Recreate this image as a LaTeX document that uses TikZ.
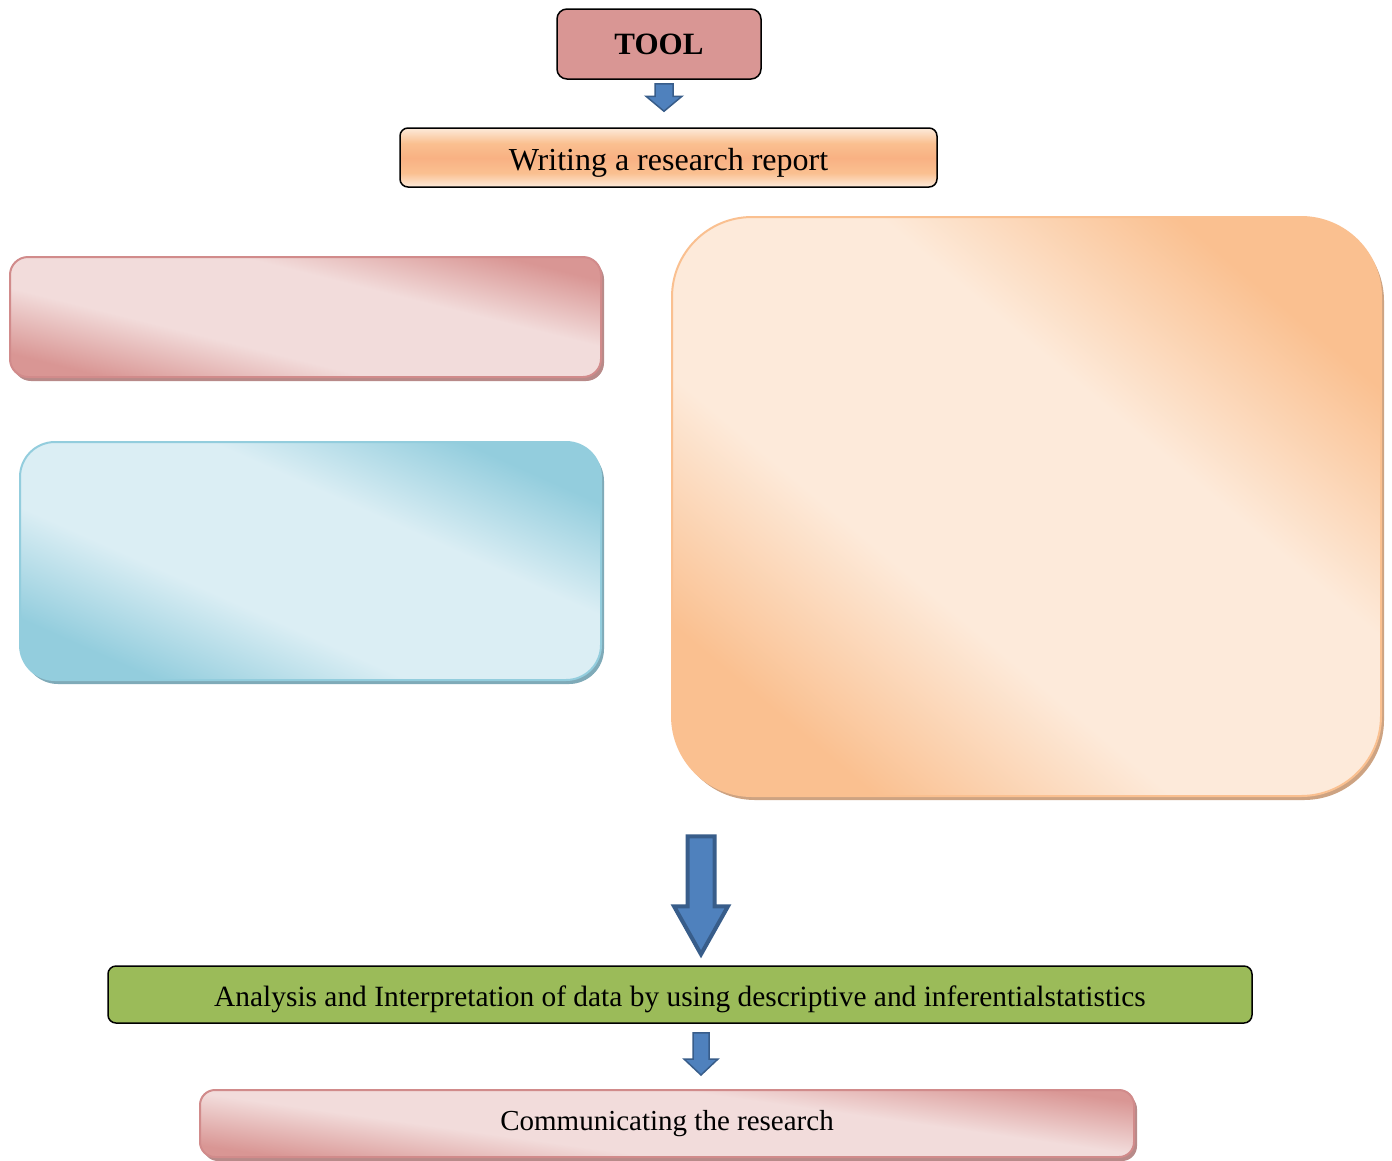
\documentclass[tikz,border=0pt]{standalone}
\usepackage{fontspec}
\setmainfont{Liberation Serif}
\usetikzlibrary{calc,shadows}

\definecolor{tooldark}{rgb}{0.851, 0.588, 0.580}
\definecolor{pinkdark}{rgb}{0.851, 0.588, 0.580}
\definecolor{pinklight}{rgb}{0.949, 0.863, 0.859}
\definecolor{pinkline}{rgb}{0.820, 0.545, 0.545}
\definecolor{pinkshadow}{rgb}{0.722, 0.541, 0.537}
\definecolor{bluedark}{rgb}{0.576, 0.804, 0.867}
\definecolor{bluelight}{rgb}{0.859, 0.933, 0.957}
\definecolor{blueshadow}{rgb}{0.498, 0.667, 0.722}
\definecolor{orangedark}{rgb}{0.980, 0.753, 0.565}
\definecolor{orangelight}{rgb}{0.992, 0.918, 0.855}
\definecolor{orangemid}{rgb}{0.976, 0.694, 0.514}
\definecolor{orangeshadow}{rgb}{0.804, 0.639, 0.510}
\definecolor{greenfill}{rgb}{0.608, 0.733, 0.349}
\definecolor{arrowfill}{rgb}{0.310, 0.506, 0.741}
\definecolor{arrowline}{rgb}{0.220, 0.365, 0.541}

\pgfdeclarehorizontalshading{pinkband}{100bp}{color(0bp)=(pinkdark); color(25bp)=(pinkdark); color(40bp)=(pinklight); color(60bp)=(pinklight); color(75bp)=(pinkdark); color(100bp)=(pinkdark)}
\pgfdeclarehorizontalshading{blueband}{100bp}{color(0bp)=(bluedark); color(25bp)=(bluedark); color(40bp)=(bluelight); color(60bp)=(bluelight); color(75bp)=(bluedark); color(100bp)=(bluedark)}
\pgfdeclarehorizontalshading{orangeband}{100bp}{color(0bp)=(orangedark); color(25bp)=(orangedark); color(40bp)=(orangelight); color(60bp)=(orangelight); color(75bp)=(orangedark); color(100bp)=(orangedark)}
\pgfdeclareverticalshading{orangestrip}{100bp}{color(0bp)=(orangelight); color(25bp)=(orangelight); color(37bp)=(orangedark); color(50bp)=(orangemid); color(62bp)=(orangedark); color(75bp)=(orangelight); color(100bp)=(orangelight)}

\newcommand{\blockarrow}[6][]{%
\draw[arrowbody,#1] ($(#2)+(-#4,0)$)--($(#2)+(#4,0)$)--($(#3)+(#4,-#6)$)--($(#3)+(#5,-#6)$)--(#3)--($(#3)+(-#5,-#6)$)--($(#3)+(-#4,-#6)$)--cycle;}

\begin{document}
\begin{tikzpicture}[x=1pt,y=-1pt,
  plainbox/.style={draw=black,line width=1.5pt,inner sep=0pt},
  softbox/.style={line width=2pt,inner sep=0pt},
  arrowbody/.style={fill=arrowfill,draw=arrowline,line width=1.5pt,line join=miter}]
\fill[white] (0,0) rectangle (1392,1160);
\useasboundingbox (0,0) rectangle (1392,1160);

\node[plainbox,rounded corners=10pt,fill=tooldark,minimum width=204pt,minimum height=70pt,
  font=\fontsize{31}{36}\selectfont\bfseries] (tool) at (659,44) {TOOL};
\node[plainbox,rounded corners=8pt,shading=orangestrip,minimum width=537pt,minimum height=59pt,
  text height=32pt,font=\fontsize{32}{38}\selectfont] (writing) at (668.5,157.5) {Writing a research report};

\node[softbox,rounded corners=18pt,draw=pinkline,shading=pinkband,shading angle=76,minimum width=591pt,minimum height=120pt,
  drop shadow={shadow xshift=3pt,shadow yshift=-4pt,fill=pinkshadow,opacity=1}] (pinkbox) at (305.5,317) {};
\node[softbox,rounded corners=35pt,draw=bluedark,shading=blueband,shading angle=66,minimum width=581pt,minimum height=238pt,
  drop shadow={shadow xshift=3pt,shadow yshift=-4pt,fill=blueshadow,opacity=1}] (bluebox) at (310.5,561) {};
\node[softbox,rounded corners=80pt,draw=orangedark,shading=orangeband,shading angle=50,minimum width=709pt,minimum height=579pt,
  drop shadow={shadow xshift=3pt,shadow yshift=-4pt,fill=orangeshadow,opacity=1}] (orangebox) at (1026.5,506.5) {};

\node[plainbox,rounded corners=8pt,fill=greenfill,minimum width=1144pt,minimum height=57pt,
  text height=30pt,font=\fontsize{29.4}{35}\selectfont] (analysis) at (680,994.5) {Analysis and Interpretation of data by using descriptive and inferentialstatistics};
\node[softbox,rounded corners=15pt,draw=pinkline,shading=pinkband,shading angle=82,minimum width=934pt,minimum height=67pt,
  drop shadow={shadow xshift=3pt,shadow yshift=-4pt,fill=pinkshadow,opacity=1},
  font=\fontsize{29}{34}\selectfont] (communicate) at (667,1123.5) {Communicating the research};

\coordinate (a1top) at ($(tool.south)+(5,4)$);
\coordinate (a1tip) at ($(writing.north)+(-4.5,-16)$);
\coordinate (a2top) at ($(analysis.north)+(21,-129)$);
\coordinate (a2tip) at ($(analysis.north)+(21,-11)$);
\coordinate (a3top) at ($(analysis.south)+(21,9)$);
\coordinate (a3tip) at ($(communicate.north)+(34,-14)$);
\blockarrow{a1top}{a1tip}{9}{18}{15}
\blockarrow[line width=4pt]{a2top}{a2tip}{13.5}{27}{48}
\blockarrow{a3top}{a3tip}{8}{17}{16}
\end{tikzpicture}
\end{document}
